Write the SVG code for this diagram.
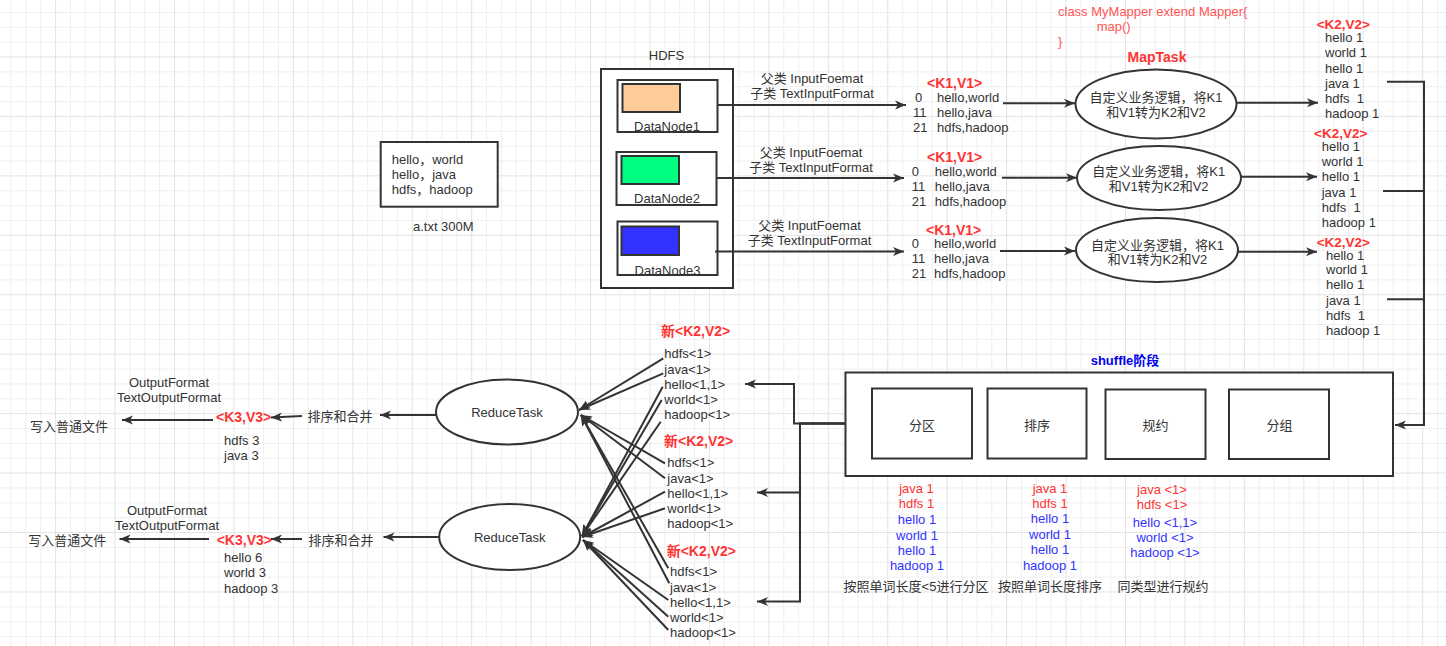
<svg xmlns="http://www.w3.org/2000/svg" width="1446" height="646" viewBox="0 0 1446 646">
<defs>
<pattern id="grid" width="59.44" height="59.44" patternUnits="userSpaceOnUse" x="55.1" y="56.5">
<path d="M15.36,0V59.44M30.22,0V59.44M45.08,0V59.44M0,15.36H59.44M0,30.22H59.44M0,45.08H59.44" stroke="#efefef" stroke-width="1" fill="none"/>
<path d="M0.5,0V59.44M0,0.5H59.44" stroke="#e3e3e3" stroke-width="1" fill="none"/>
</pattern>
<marker id="arr" markerWidth="12" markerHeight="10" refX="11" refY="5" orient="auto" markerUnits="userSpaceOnUse">
<path d="M0,0.5 L11,5 L0,9.5 L3,5 Z" fill="#333333"/>
</marker>
<style>
text{font-family:"Liberation Sans","Noto Sans CJK SC",sans-serif;font-size:13px;fill:#333333}
.r{fill:#FF3333;font-weight:bold;font-size:14px}
.r2{fill:#FF3333;font-weight:bold;font-size:13.5px}
.rl{fill:#FF3333}
.cl{fill:#FF5555}
.bl{fill:#3333FF}
.sh{fill:#0000EE;font-weight:bold}
.m{text-anchor:middle}
.box{fill:#ffffff;stroke:#333333;stroke-width:2}
.ln{fill:none;stroke:#333333;stroke-width:2}
.ar{fill:none;stroke:#333333;stroke-width:2;marker-end:url(#arr)}
</style>
</defs>
<rect width="1446" height="646" fill="#ffffff"/>
<rect width="1446" height="646" fill="url(#grid)"/>

<g id="atxt">
<rect x="380.7" y="142" width="117" height="64.7" class="box"/>
<text x="391.7" y="163.5">hello，world</text>
<text x="391.7" y="178.5">hello，java</text>
<text x="391.7" y="193.5">hdfs，hadoop</text>
<text x="443.3" y="230.5" class="m">a.txt 300M</text>
</g>

<g id="hdfs">
<text x="666.5" y="59.5" class="m">HDFS</text>
<rect x="601" y="69" width="132" height="219" class="box"/>
</g>
<g id="datanode1">
<rect x="617.5" y="80" width="100" height="52" class="box"/>
<rect x="622.5" y="84" width="57.5" height="28" fill="#FFCC99" stroke="#333333" stroke-width="2"/>
<text x="667" y="130.5" class="m">DataNode1</text>
</g>
<g id="datanode2">
<rect x="616.5" y="152" width="100" height="53" class="box"/>
<rect x="621.5" y="156" width="57.5" height="28" fill="#00FF80" stroke="#333333" stroke-width="2"/>
<text x="667" y="202.5" class="m">DataNode2</text>
</g>
<g id="datanode3">
<rect x="617.5" y="221.5" width="100" height="53.5" class="box"/>
<rect x="621.5" y="226.5" width="57.5" height="28.5" fill="#3333FF" stroke="#333333" stroke-width="2"/>
<text x="667.5" y="274.5" class="m">DataNode3</text>
</g>

<g id="inputformat-labels">
<text x="812" y="82.5" class="m">父类 InputFoemat</text>
<text x="812" y="97.5" class="m">子类 TextInputFormat</text>
<text x="811" y="157" class="m">父类 InputFoemat</text>
<text x="811" y="172" class="m">子类 TextInputFormat</text>
<text x="809.5" y="229.5" class="m">父类 InputFoemat</text>
<text x="809.5" y="244.5" class="m">子类 TextInputFormat</text>
</g>

<g id="k1v1-1">
<text x="927" y="88.3" class="r">&lt;K1,V1&gt;</text>
<text x="915" y="101.8">0</text><text x="937" y="101.8">hello,world</text>
<text x="913" y="116.8">11</text><text x="937" y="116.8">hello,java</text>
<text x="913" y="132.2">21</text><text x="937" y="132.2">hdfs,hadoop</text>
</g>
<g id="k1v1-2">
<text x="927" y="162.3" class="r">&lt;K1,V1&gt;</text>
<text x="911.7" y="176.2">0</text><text x="934.7" y="176.2">hello,world</text>
<text x="911.7" y="191.2">11</text><text x="934.7" y="191.2">hello,java</text>
<text x="911.7" y="206.2">21</text><text x="934.7" y="206.2">hdfs,hadoop</text>
</g>
<g id="k1v1-3">
<text x="926" y="235" class="r">&lt;K1,V1&gt;</text>
<text x="911.7" y="247.8">0</text><text x="934" y="247.8">hello,world</text>
<text x="911.7" y="262.8">11</text><text x="934" y="262.8">hello,java</text>
<text x="911.7" y="277.8">21</text><text x="934" y="277.8">hdfs,hadoop</text>
</g>

<g id="mapper-code">
<text x="1058" y="16.2" class="cl">class MyMapper extend Mapper{</text>
<text x="1096.7" y="31.2" class="cl">map()</text>
<text x="1058" y="46.2" class="cl">}</text>
</g>
<g id="maptask1">
<text x="1157" y="62.3" class="r m">MapTask</text>
<ellipse cx="1156" cy="104" rx="80.5" ry="34.5" class="box"/>
<text x="1156" y="102.2" class="m">自定义业务逻辑，将K1</text>
<text x="1156" y="117.2" class="m">和V1转为K2和V2</text>
</g>
<g id="maptask2">
<ellipse cx="1159" cy="178" rx="82" ry="32" class="box"/>
<text x="1158.7" y="176.2" class="m">自定义业务逻辑，将K1</text>
<text x="1158.7" y="190.5" class="m">和V1转为K2和V2</text>
</g>
<g id="maptask3">
<ellipse cx="1157" cy="250" rx="81" ry="32" class="box"/>
<text x="1157.5" y="249.5" class="m">自定义业务逻辑，将K1</text>
<text x="1157.5" y="263.8" class="m">和V1转为K2和V2</text>
</g>

<g id="k2v2-1">
<text x="1316.7" y="28.5" class="r2">&lt;K2,V2&gt;</text>
<text x="1325" y="42">hello 1</text>
<text x="1325" y="56.8">world 1</text>
<text x="1325" y="72.5">hello 1</text>
<text x="1325" y="87.8">java 1</text>
<text x="1325" y="102.8" xml:space="preserve">hdfs  1</text>
<text x="1325" y="117.8">hadoop 1</text>
</g>
<g id="k2v2-2">
<text x="1314" y="137.5" class="r2">&lt;K2,V2&gt;</text>
<text x="1321.7" y="150.8">hello 1</text>
<text x="1321.7" y="165.8">world 1</text>
<text x="1321.7" y="180.8">hello 1</text>
<text x="1321.7" y="197.2">java 1</text>
<text x="1321.7" y="211.5" xml:space="preserve">hdfs  1</text>
<text x="1321.7" y="227.2">hadoop 1</text>
</g>
<g id="k2v2-3">
<text x="1316.7" y="246.8" class="r2">&lt;K2,V2&gt;</text>
<text x="1326" y="259.5">hello 1</text>
<text x="1326" y="273.8">world 1</text>
<text x="1326" y="288.5">hello 1</text>
<text x="1326" y="305.2">java 1</text>
<text x="1326" y="319.5" xml:space="preserve">hdfs  1</text>
<text x="1326" y="335.2">hadoop 1</text>
</g>

<g id="shuffle">
<text x="1125" y="364.5" class="sh m">shuffle阶段</text>
<rect x="845.5" y="372.5" width="547.5" height="103.5" class="box"/>
</g>
<g id="partition">
<rect x="872" y="388.5" width="100" height="70" class="box"/>
<text x="922" y="429.5" class="m">分区</text>
</g>
<g id="sort">
<rect x="987.5" y="388.5" width="99" height="70" class="box"/>
<text x="1037" y="429.5" class="m">排序</text>
</g>
<g id="combine">
<rect x="1105.5" y="389.5" width="100" height="69.5" class="box"/>
<text x="1155.5" y="430" class="m">规约</text>
</g>
<g id="group">
<rect x="1229" y="389.5" width="100" height="69.5" class="box"/>
<text x="1279.5" y="430" class="m">分组</text>
</g>

<g id="partition-list">
<text x="916.5" y="492.8" class="rl m">java 1</text>
<text x="916.5" y="507.8" class="rl m">hdfs 1</text>
<text x="917" y="523.8" class="bl m">hello 1</text>
<text x="917" y="539.5" class="bl m">world 1</text>
<text x="917" y="554.5" class="bl m">hello 1</text>
<text x="917" y="569.8" class="bl m">hadoop 1</text>
<text x="916" y="591.2" class="m">按照单词长度&lt;5进行分区</text>
</g>
<g id="sort-list">
<text x="1050" y="492.5" class="rl m">java 1</text>
<text x="1050" y="507.5" class="rl m">hdfs 1</text>
<text x="1050" y="522.5" class="bl m">hello 1</text>
<text x="1050" y="538.5" class="bl m">world 1</text>
<text x="1050" y="553.5" class="bl m">hello 1</text>
<text x="1050" y="569.5" class="bl m">hadoop 1</text>
<text x="1050" y="591.2" class="m">按照单词长度排序</text>
</g>
<g id="combine-list">
<text x="1162" y="493.5" class="rl m">java &lt;1&gt;</text>
<text x="1162" y="508.5" class="rl m">hdfs &lt;1&gt;</text>
<text x="1165" y="526.5" class="bl m">hello &lt;1,1&gt;</text>
<text x="1165" y="541.5" class="bl m">world &lt;1&gt;</text>
<text x="1165" y="556.5" class="bl m">hadoop &lt;1&gt;</text>
<text x="1163" y="591.2" class="m">同类型进行规约</text>
</g>

<g id="newk2v2-1">
<text x="661" y="336" class="r">新&lt;K2,V2&gt;</text>
<text x="664.3" y="357.8">hdfs&lt;1&gt;</text>
<text x="664.3" y="373.8">java&lt;1&gt;</text>
<text x="664.3" y="388.8">hello&lt;1,1&gt;</text>
<text x="664.3" y="403.8">world&lt;1&gt;</text>
<text x="664.3" y="418.8">hadoop&lt;1&gt;</text>
</g>
<g id="newk2v2-2">
<text x="664" y="446" class="r">新&lt;K2,V2&gt;</text>
<text x="667.3" y="466.8">hdfs&lt;1&gt;</text>
<text x="667.3" y="482.8">java&lt;1&gt;</text>
<text x="667.3" y="497.8">hello&lt;1,1&gt;</text>
<text x="667.3" y="512.8">world&lt;1&gt;</text>
<text x="667.3" y="527.8">hadoop&lt;1&gt;</text>
</g>
<g id="newk2v2-3">
<text x="666.7" y="556" class="r">新&lt;K2,V2&gt;</text>
<text x="670" y="575.5">hdfs&lt;1&gt;</text>
<text x="670" y="591.8">java&lt;1&gt;</text>
<text x="670" y="606.8">hello&lt;1,1&gt;</text>
<text x="670" y="621.8">world&lt;1&gt;</text>
<text x="670" y="636.8">hadoop&lt;1&gt;</text>
</g>

<g id="reducetask1">
<ellipse cx="507" cy="412" rx="71" ry="32.5" class="box"/>
<text x="507" y="416.5" class="m">ReduceTask</text>
</g>
<g id="reducetask2">
<ellipse cx="509.7" cy="537" rx="70.5" ry="33" class="box"/>
<text x="509.7" y="541.5" class="m">ReduceTask</text>
</g>

<g id="output1">
<text x="340" y="421.2" class="m">排序和合并</text>
<text x="216" y="422.3" class="r">&lt;K3,V3&gt;</text>
<text x="224" y="444.5">hdfs 3</text>
<text x="224" y="460.2">java 3</text>
<text x="169" y="387.2" class="m">OutputFormat</text>
<text x="169" y="401.8" class="m">TextOutputFormat</text>
<text x="30" y="431.2">写入普通文件</text>
</g>
<g id="output2">
<text x="341" y="544.5" class="m">排序和合并</text>
<text x="216.7" y="545" class="r">&lt;K3,V3&gt;</text>
<text x="224" y="561.8">hello 6</text>
<text x="224" y="577.2">world 3</text>
<text x="224" y="592.5">hadoop 3</text>
<text x="167" y="515.2" class="m">OutputFormat</text>
<text x="167" y="530.2" class="m">TextOutputFormat</text>
<text x="28.3" y="544.5">写入普通文件</text>
</g>

<g id="connectors">
<path d="M717,105 H906" class="ar"/>
<path d="M716,178 H904" class="ar"/>
<path d="M715,251.5 H904" class="ar"/>
<path d="M1003,103.3 H1075" class="ar"/>
<path d="M1002,177.7 H1077" class="ar"/>
<path d="M1000,251 H1075" class="ar"/>
<path d="M1237,102.7 H1318" class="ar"/>
<path d="M1241,176.7 H1317" class="ar"/>
<path d="M1238,251.7 H1317" class="ar"/>
<path d="M1387,81.7 H1424 V425 H1395" class="ar"/>
<path d="M1383,191 H1424" class="ln"/>
<path d="M1387,299.3 H1424" class="ln"/>
<path d="M845,423.5 H794 V384 H745" class="ar"/>
<path d="M845,423.5 H800 V492.5 H757" class="ar"/>
<path d="M845,423.5 H800 V601.5 H757" class="ar"/>
<path d="M663.3,358.3 L579,410" class="ar"/>
<path d="M663.3,373.3 L579,410" class="ar"/>
<path d="M665,463.3 L581,415" class="ar"/>
<path d="M665,478.3 L581,415" class="ar"/>
<path d="M668.3,568.3 L581,415" class="ar"/>
<path d="M669.3,583.3 L581,415" class="ar"/>
<path d="M662.7,386.7 L582,536" class="ar"/>
<path d="M661.7,400 L582,536" class="ar"/>
<path d="M660.7,421.7 L582,536" class="ar"/>
<path d="M665,491.7 L582,537" class="ar"/>
<path d="M665,508.3 L582,537" class="ar"/>
<path d="M668.3,600 L583,540" class="ar"/>
<path d="M668.3,616.7 L583,540" class="ar"/>
<path d="M668.3,630 L583,540" class="ar"/>
<path d="M436,415 H380" class="ar"/>
<path d="M302,416 L271,417.5" class="ar"/>
<path d="M213,420 H122" class="ar"/>
<path d="M439,537 H383.5" class="ar"/>
<path d="M302,539 H271" class="ar"/>
<path d="M209,539 H119.5" class="ar"/>
</g>
</svg>
